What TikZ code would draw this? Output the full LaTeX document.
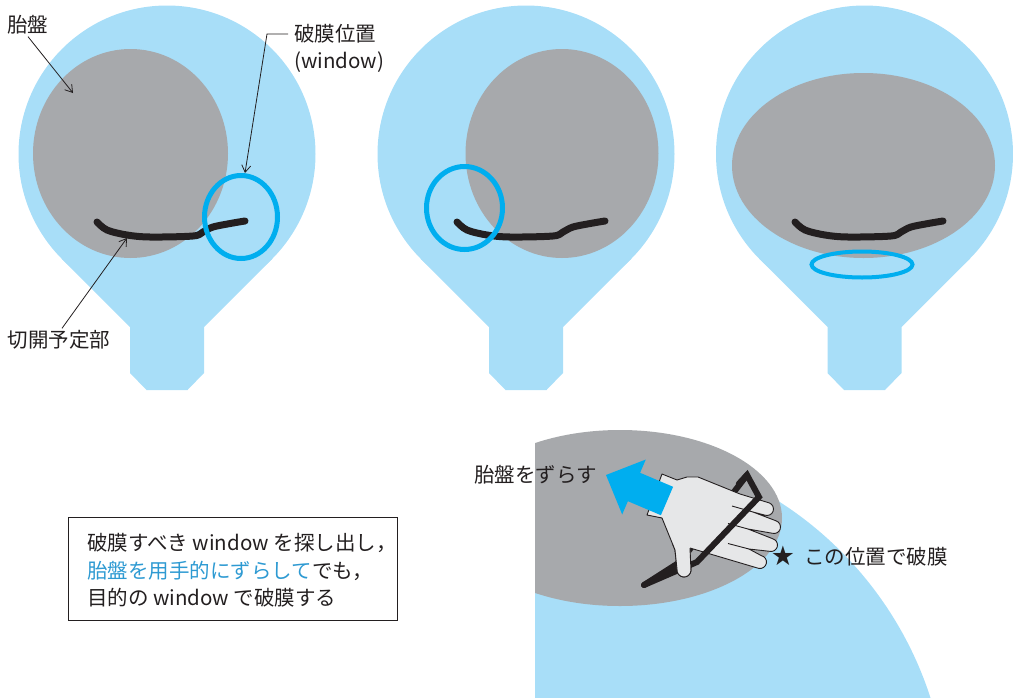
\documentclass[tikz,border=0pt]{standalone}
\usepackage{fontspec}
\setmainfont{Noto Sans CJK JP}
\newfontfamily\symfont{DejaVu Sans}
\usetikzlibrary{arrows.meta}
\definecolor{cSky}{HTML}{A8DEF8}
\definecolor{cPlacenta}{HTML}{A7A9AC}
\definecolor{cRing}{HTML}{00AEEF}
\definecolor{cInk}{HTML}{231F20}
\definecolor{cGlove}{HTML}{E6E7E8}
\definecolor{cText}{HTML}{2E9AD2}
\tikzset{
  cutline/.style={draw=cInk, line width=7, line cap=round, line join=round},
  windowring/.style={draw=cRing, line width=5},
  leader/.style={draw=cInk, line width=0.8, -{Straight Barb[length=7pt,width=9pt]}},
  loopline/.style={draw=cInk, line width=6, line cap=round, line join=miter},
  gloveline/.style={draw=cInk, line width=0.9, line join=round},
}
\begin{document}
\begin{tikzpicture}[x=1pt,y=-1pt,
  every node/.style={inner sep=0pt, text=cInk, font=\fontsize{20.5}{24}\selectfont}]
\useasboundingbox (0,0) rectangle (1013,697);

% three uterus outlines (body + cervix)
\foreach \cx in {167,526,864.5} {
  \fill[cSky] (\cx,154) circle (148.5);
  \fill[cSky] (\cx-105,259) -- (\cx-37,327) -- (\cx-37,373) -- (\cx-20.5,390)
     -- (\cx+20.5,390) -- (\cx+37,373) -- (\cx+37,327) -- (\cx+105,259) -- cycle;
}

% placenta in each case
\fill[cPlacenta] (130.5,153.5) ellipse [x radius=97.5, y radius=104.5];
\fill[cPlacenta] (562,153.5) ellipse [x radius=96.5, y radius=104.5];
\fill[cPlacenta] (863.5,165.5) ellipse [x radius=131.5, y radius=92.5];

% planned incision
\foreach \s in {0,360,698} {
  \draw[cutline, shift={(\s,0)}] plot[smooth, tension=0.55] coordinates
    {(97,222) (107,230) (127,235) (150,237) (193,236) (203,232) (213,227) (233,223) (245,221)};
}

% rupture window
\draw[windowring] (241,217) ellipse [x radius=36.5, y radius=41.5];
\draw[windowring] (464.5,208) ellipse [x radius=38, y radius=41.5];
\draw[windowring, line width=4] (862,264.5) ellipse [x radius=50.5, y radius=13];

% labels of the first case
\node (lblPlacenta) at (28,25) {胎盤};
\coordinate (tipPlacenta) at (73,93);
\draw[leader] ([yshift=-2pt]lblPlacenta.south) -- (tipPlacenta);

\node[anchor=west] (lblWinA) at (294,34) {破膜位置};
\node[anchor=west] (lblWinB) at (294,62) {(window)};
\coordinate (tipWindow) at (245,173);
\draw[leader] ([xshift=-6pt]lblWinA.west) -- ++(-21,0) -- (tipWindow);

\node (lblCut) at (59,340) {切開予定部};
\coordinate (tipCut) at (127,238);
\draw[leader] ([xshift=3pt,yshift=2pt]lblCut.north) -- (tipCut);

% note box
\node[draw=cInk, line width=1, minimum width=329, minimum height=103, anchor=north west]
  (noteBox) at (68,517) {};
\node[anchor=west] (noteA) at (87,543) {破膜すべき window を探し出し，};
\node[anchor=west] (noteB) at (87,571) {{\color{cText}胎盤を用手的にずらして}でも，};
\node[anchor=west] (noteC) at (87,598) {目的の window で破膜する};

% manual displacement of the placenta
\begin{scope}
  \clip (535,420) rectangle (1013,697);
  \fill[cSky] (582,810) circle (366);
  \fill[cPlacenta] (620,518) ellipse [x radius=162, y radius=88];
\end{scope}

% back side of the opening, hidden by the hand
\draw[loopline] (644,585) -- (680,562) -- (747,475);

% gloved hand
\filldraw[gloveline, fill=cGlove]
  (662,474) -- (677,480) -- (687,477) -- (698,477) -- (740,494)
  -- (769.22,502.89) arc[start angle=-70, end angle=110, radius=6.5]
  -- (753,512)
  -- (776.01,520.82) arc[start angle=-72, end angle=108, radius=6.5]
  -- (748,529)
  -- (772.68,538.72) arc[start angle=-75, end angle=105, radius=6.5]
  -- (749,549)
  -- (761.35,555.64) arc[start angle=-78, end angle=102, radius=6.5]
  -- (690,548)
  -- (690.97,570.61) arc[start angle=5, end angle=185, radius=7]
  -- (675,550) -- (662,518) -- (647,515) -- cycle;
\draw[gloveline] (753,512) -- (732,506);
\draw[gloveline] (748,529) -- (728,523.5);
\draw[gloveline] (749,549) -- (728,543.5);

% push direction
\fill[cRing] (606,475) -- (645.8,459.5) -- (640.1,472.8) -- (673.1,486.8)
  -- (660.9,515.2) -- (627.9,501.2) -- (622.2,514.5) -- cycle;

% front side of the opening
\draw[loopline] (738.8,483.8) -- (747,475) -- (759,497) -- (697,562) -- (644,585);

% thumb over the opening
\fill[cGlove] (690,545) -- (690.97,570.61) arc[start angle=5, end angle=185, radius=7]
  -- (675,550) -- (672.6,544) -- cycle;
\draw[gloveline] (690,548) -- (690.97,570.61) arc[start angle=5, end angle=185, radius=7]
  -- (675,550) -- (672.6,544);

\node[anchor=west] (lblShift) at (474,475) {胎盤をずらす};
\node (star) at (783,556) {\symfont\fontsize{27}{30}\selectfont ★};
\node[anchor=west] (lblHere) at (804,557) {この位置で破膜};
\end{tikzpicture}
\end{document}
